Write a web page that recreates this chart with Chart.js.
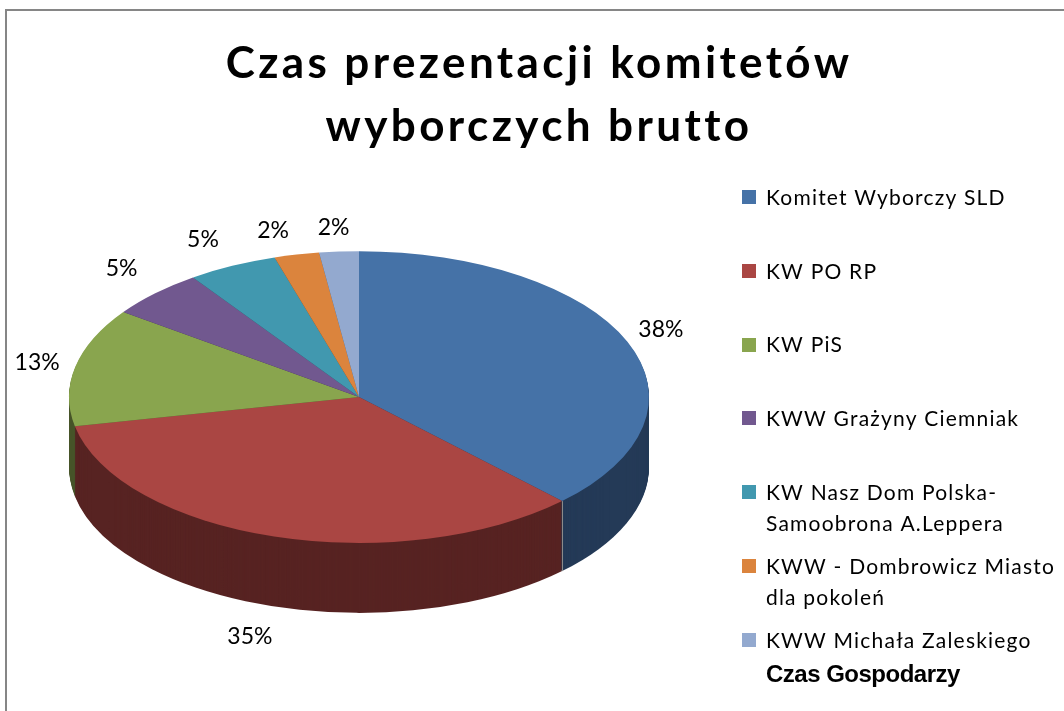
<!DOCTYPE html>
<html>
<head>
<meta charset="utf-8">
<style>html,body{margin:0;padding:0;background:#fff}#w{width:1064px;height:711px}canvas{display:block}</style>
<script src="https://cdn.jsdelivr.net/npm/chart.js@4"></script>
</head>
<body>
<div id="w"><canvas id="c" width="1064" height="711"></canvas></div>
<script>
const titleLines = ['Czas prezentacji komitetów', 'wyborczych brutto'];
const categories = ['Komitet Wyborczy SLD', 'KW PO RP', 'KW PiS', 'KWW Grażyny Ciemniak', 'KW Nasz Dom Polska-\nSamoobrona A.Leppera', 'KWW - Dombrowicz Miasto\ndla pokoleń', 'KWW Michała Zaleskiego'];
const values = [37.65, 34.15, 13.1, 5.4, 5.0, 2.5, 2.2];
const percentLabels = ['38%', '35%', '13%', '5%', '5%', '2%', '2%'];
const topColors = ['#4572A7', '#AA4643', '#89A54E', '#71588F', '#4198AF', '#DB843D', '#93A9CF'];
const wallColors = ['#243A57', '#572322', '#47552A', '#3A2D4A', '#22505B', '#72441F', '#4C586C'];
const footnote = 'Czas Gospodarzy';

// Look of the 3D pie
const SQUASH = 0.503, DEPTH = 70;
const LABEL_RX = 325, LABEL_RY = 175;
const labelNudge = [[1,-1],[-14,2],[-4,2],[-9,-4],[-14,0],[-16,4],[-3,5]];
const LABEL_FONT = '23px Lato, "Open Sans", sans-serif';
const LEGEND_FONT = '21px Lato, "Open Sans", sans-serif';

const pie3d = {
  id: 'pie3d',
  beforeDraw(chart) {
    const ctx = chart.ctx;
    ctx.save();
    ctx.strokeStyle = '#868686';
    ctx.lineWidth = 2;
    ctx.beginPath();
    ctx.moveTo(6, 711); ctx.lineTo(6, 10); ctx.lineTo(1064, 10);
    ctx.stroke();
    ctx.restore();
    ctx.save();
    ctx.letterSpacing = '3.4px';
    ctx.translate(180, 0);
  },
  beforeDatasetsDraw(chart) {
    const ctx = chart.ctx;
    ctx.restore();
    const arcs = chart.getDatasetMeta(0).data;
    const cy = arcs[0].y;
    ctx.save();
    ctx.translate(0, cy); ctx.scale(1, SQUASH); ctx.translate(0, -cy);
    for (let d = DEPTH; d >= 1; d--) {
      arcs.forEach((a, i) => {
        ctx.beginPath();
        ctx.moveTo(a.x, a.y + d / SQUASH);
        ctx.arc(a.x, a.y + d / SQUASH, a.outerRadius, a.startAngle, a.endAngle);
        ctx.closePath();
        ctx.fillStyle = wallColors[i];
        ctx.fill();
      });
    }
  },
  afterDatasetsDraw(chart) {
    const ctx = chart.ctx;
    ctx.restore();
    const arcs = chart.getDatasetMeta(0).data;
    // seam on the front wall between blue and red
    const a0 = arcs[0];
    const sx = a0.x + Math.cos(a0.endAngle) * a0.outerRadius;
    const sy = a0.y + Math.sin(a0.endAngle) * a0.outerRadius * SQUASH;
    ctx.save();
    ctx.strokeStyle = '#8a8a8a';
    ctx.lineWidth = 1;
    ctx.beginPath();
    ctx.moveTo(Math.round(sx) + 0.5, sy);
    ctx.lineTo(Math.round(sx) + 0.5, sy + DEPTH);
    ctx.stroke();
    // percentage labels
    ctx.font = LABEL_FONT;
    ctx.fillStyle = '#000';
    ctx.textAlign = 'center';
    ctx.textBaseline = 'middle';
    arcs.forEach((a, i) => {
      const mid = (a.startAngle + a.endAngle) / 2;
      const c = Math.cos(mid), s = Math.sin(mid);
      const x = a.x + c * LABEL_RX + labelNudge[i][0];
      const y = a.y + s * LABEL_RY + (s > 0 ? DEPTH : 0) + labelNudge[i][1];
      ctx.fillText(percentLabels[i], x, y);
    });
    // legend
    const lx = 742, ltx = 766, ly0 = 197, lstep = 73.8;
    ctx.textAlign = 'left';
    categories.forEach((name, i) => {
      const y = ly0 + lstep * i;
      ctx.fillStyle = topColors[i];
      ctx.fillRect(lx, Math.round(y - 7), 14, 14);
      ctx.fillStyle = '#000';
      ctx.font = LEGEND_FONT;
      ctx.letterSpacing = '1.2px';
      name.split('\n').forEach((line, j) => ctx.fillText(line, ltx, y + 1 + 31 * j));
    });
    ctx.letterSpacing = '-0.5px';
    ctx.font = 'bold 24px "Liberation Sans", Arial, sans-serif';
    ctx.fillText(footnote, ltx, 675);
    ctx.restore();
  }
};

new Chart(document.getElementById('c'), {
  type: 'pie',
  data: {
    labels: categories,
    datasets: [{
      data: values,
      backgroundColor: topColors,
      borderWidth: 0,
      clip: false,
      radius: 290
    }]
  },
  options: {
    responsive: false,
    animation: false,
    layout: { padding: { left: 0, right: 346, top: 0, bottom: 83 } },
    plugins: {
      legend: { display: false },
      tooltip: { enabled: false },
      title: {
        display: true,
        text: titleLines,
        color: '#000',
        font: { family: 'Lato, "Open Sans", sans-serif', size: 44, weight: 'bold', lineHeight: 1.432 },
        padding: { top: 32, bottom: 8 }
      }
    }
  },
  plugins: [pie3d]
});
</script>
</body>
</html>
